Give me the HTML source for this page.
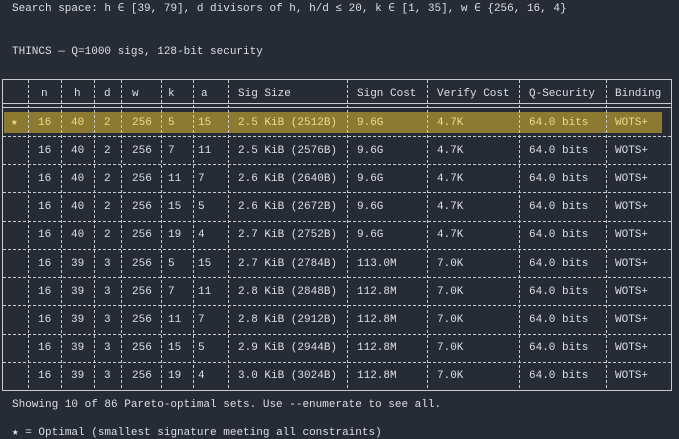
<!DOCTYPE html>
<html><head><meta charset="utf-8"><style>
html,body{margin:0;padding:0;background:#272b34;width:679px;height:439px;overflow:hidden}
svg{display:block}
text{font-family:"Liberation Mono","DejaVu Sans Mono",monospace;font-size:11px;fill:#dcdfe4;dominant-baseline:central}
.h text{fill:#f0da86}
</style></head><body>
<svg width="679" height="439" viewBox="0 0 679 439">
<text x="12" y="9">Search space: h ∈ [39, 79], d divisors of h, h/d ≤ 20, k ∈ [1, 35], w ∈ {256, 16, 4}</text>
<text x="12" y="52">THINCS — Q=1000 sigs, 128-bit security</text>
<rect x="4" y="112" width="658" height="21" fill="#8c7a30"/>
<g stroke="#c9cacc" stroke-width="1" fill="none">
<rect x="2.5" y="79.5" width="669" height="311"/>
<line x1="2" y1="103.5" x2="672" y2="103.5"/>
<line x1="2" y1="107.5" x2="672" y2="107.5"/>
</g>
<g stroke="#c9cacc" stroke-width="1" stroke-dasharray="3,2">
<line x1="28.5" y1="80" x2="28.5" y2="390"/><line x1="61.5" y1="80" x2="61.5" y2="390"/>
<line x1="94.5" y1="80" x2="94.5" y2="390"/><line x1="121.5" y1="80" x2="121.5" y2="390"/>
<line x1="161.5" y1="80" x2="161.5" y2="390"/><line x1="193.5" y1="80" x2="193.5" y2="390"/>
<line x1="228.5" y1="80" x2="228.5" y2="390"/><line x1="347.5" y1="80" x2="347.5" y2="390"/>
<line x1="427.5" y1="80" x2="427.5" y2="390"/><line x1="519.5" y1="80" x2="519.5" y2="390"/>
<line x1="606.5" y1="80" x2="606.5" y2="390"/>
<line x1="3" y1="136.5" x2="671" y2="136.5"/><line x1="3" y1="164.5" x2="671" y2="164.5"/>
<line x1="3" y1="192.5" x2="671" y2="192.5"/><line x1="3" y1="221.5" x2="671" y2="221.5"/>
<line x1="3" y1="249.5" x2="671" y2="249.5"/><line x1="3" y1="277.5" x2="671" y2="277.5"/>
<line x1="3" y1="305.5" x2="671" y2="305.5"/><line x1="3" y1="334.5" x2="671" y2="334.5"/>
<line x1="3" y1="362.5" x2="671" y2="362.5"/>
</g>
<g>
<text x="41" y="94">n</text><text x="74" y="94">h</text><text x="104" y="94">d</text><text x="132" y="94">w</text>
<text x="168" y="94">k</text><text x="201" y="94">a</text><text x="238" y="94">Sig Size</text>
<text x="357" y="94">Sign Cost</text><text x="437" y="94">Verify Cost</text><text x="529" y="94">Q-Security</text><text x="615" y="94">Binding</text>
</g>
<g class="h">
<text x="11" y="123">★</text><text x="38" y="123">16</text><text x="71" y="123">40</text><text x="104" y="123">2</text><text x="132" y="123">256</text><text x="168" y="123">5</text><text x="198" y="123">15</text><text x="238" y="123">2.5 KiB (2512B)</text><text x="357" y="123">9.6G</text><text x="437" y="123">4.7K</text><text x="529" y="123">64.0 bits</text><text x="615" y="123">WOTS+</text>
</g>
<g>
<text x="38" y="151">16</text><text x="71" y="151">40</text><text x="104" y="151">2</text><text x="132" y="151">256</text><text x="168" y="151">7</text><text x="198" y="151">11</text><text x="238" y="151">2.5 KiB (2576B)</text><text x="357" y="151">9.6G</text><text x="437" y="151">4.7K</text><text x="529" y="151">64.0 bits</text><text x="615" y="151">WOTS+</text>
<text x="38" y="179">16</text><text x="71" y="179">40</text><text x="104" y="179">2</text><text x="132" y="179">256</text><text x="168" y="179">11</text><text x="198" y="179">7</text><text x="238" y="179">2.6 KiB (2640B)</text><text x="357" y="179">9.6G</text><text x="437" y="179">4.7K</text><text x="529" y="179">64.0 bits</text><text x="615" y="179">WOTS+</text>
<text x="38" y="207">16</text><text x="71" y="207">40</text><text x="104" y="207">2</text><text x="132" y="207">256</text><text x="168" y="207">15</text><text x="198" y="207">5</text><text x="238" y="207">2.6 KiB (2672B)</text><text x="357" y="207">9.6G</text><text x="437" y="207">4.7K</text><text x="529" y="207">64.0 bits</text><text x="615" y="207">WOTS+</text>
<text x="38" y="235">16</text><text x="71" y="235">40</text><text x="104" y="235">2</text><text x="132" y="235">256</text><text x="168" y="235">19</text><text x="198" y="235">4</text><text x="238" y="235">2.7 KiB (2752B)</text><text x="357" y="235">9.6G</text><text x="437" y="235">4.7K</text><text x="529" y="235">64.0 bits</text><text x="615" y="235">WOTS+</text>
<text x="38" y="264">16</text><text x="71" y="264">39</text><text x="104" y="264">3</text><text x="132" y="264">256</text><text x="168" y="264">5</text><text x="198" y="264">15</text><text x="238" y="264">2.7 KiB (2784B)</text><text x="357" y="264">113.0M</text><text x="437" y="264">7.0K</text><text x="529" y="264">64.0 bits</text><text x="615" y="264">WOTS+</text>
<text x="38" y="292">16</text><text x="71" y="292">39</text><text x="104" y="292">3</text><text x="132" y="292">256</text><text x="168" y="292">7</text><text x="198" y="292">11</text><text x="238" y="292">2.8 KiB (2848B)</text><text x="357" y="292">112.8M</text><text x="437" y="292">7.0K</text><text x="529" y="292">64.0 bits</text><text x="615" y="292">WOTS+</text>
<text x="38" y="320">16</text><text x="71" y="320">39</text><text x="104" y="320">3</text><text x="132" y="320">256</text><text x="168" y="320">11</text><text x="198" y="320">7</text><text x="238" y="320">2.8 KiB (2912B)</text><text x="357" y="320">112.8M</text><text x="437" y="320">7.0K</text><text x="529" y="320">64.0 bits</text><text x="615" y="320">WOTS+</text>
<text x="38" y="348">16</text><text x="71" y="348">39</text><text x="104" y="348">3</text><text x="132" y="348">256</text><text x="168" y="348">15</text><text x="198" y="348">5</text><text x="238" y="348">2.9 KiB (2944B)</text><text x="357" y="348">112.8M</text><text x="437" y="348">7.0K</text><text x="529" y="348">64.0 bits</text><text x="615" y="348">WOTS+</text>
<text x="38" y="376">16</text><text x="71" y="376">39</text><text x="104" y="376">3</text><text x="132" y="376">256</text><text x="168" y="376">19</text><text x="198" y="376">4</text><text x="238" y="376">3.0 KiB (3024B)</text><text x="357" y="376">112.8M</text><text x="437" y="376">7.0K</text><text x="529" y="376">64.0 bits</text><text x="615" y="376">WOTS+</text>
</g>
<text x="12" y="405">Showing 10 of 86 Pareto-optimal sets. Use --enumerate to see all.</text>
<text x="12" y="433">★ = Optimal (smallest signature meeting all constraints)</text>
</svg>
</body></html>
